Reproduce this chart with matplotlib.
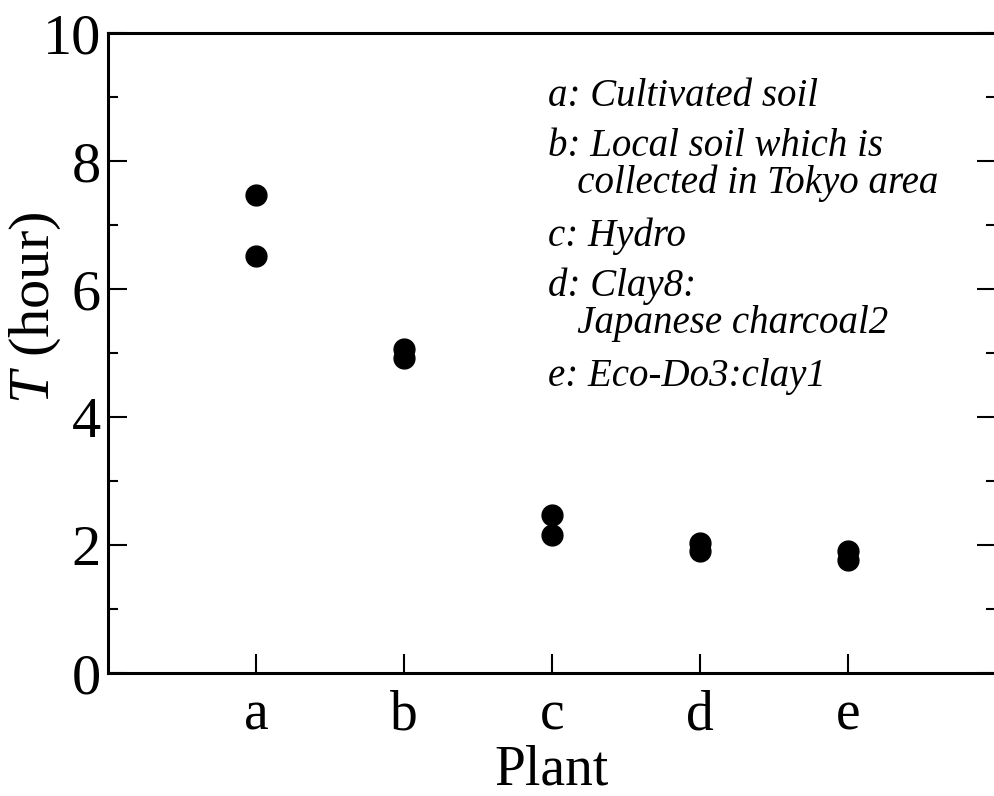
import numpy as np
import matplotlib
matplotlib.use("Agg")
import matplotlib.pyplot as plt

plt.rcParams["font.family"] = ["Liberation Serif", "DejaVu Serif"]
plt.rcParams["mathtext.fontset"] = "custom"
plt.rcParams["mathtext.it"] = "Liberation Serif:italic"
plt.rcParams["mathtext.rm"] = "Liberation Serif"

plants = ["a", "b", "c", "d", "e"]
t_first = [7.47, 5.06, 2.47, 2.03, 1.91]
t_second = [6.52, 4.92, 2.16, 1.90, 1.77]

legend_lines = [
    "a: Cultivated soil",
    "b: Local soil which is\n   collected in Tokyo area",
    "c: Hydro",
    "d: Clay8:\n   Japanese charcoal2",
    "e: Eco-Do3:clay1",
]
legend_tops = [0.930, 0.852, 0.711, 0.633, 0.492]

fig = plt.figure(figsize=(9.94, 7.96), dpi=100)
ax = fig.add_axes([108/994, 123/796, 888/994, 640/796])

x = np.arange(1, len(plants) + 1)
ax.plot(x, t_first, "o", color="black", markersize=15)
ax.plot(x, t_second, "o", color="black", markersize=15)

ax.set_xlim(0, 6)
ax.set_ylim(0, 10)
ax.set_xticks(x)
ax.set_xticklabels(plants)
ax.set_yticks(np.arange(0, 11, 2))
ax.set_yticks(np.arange(1, 10, 2), minor=True)

ax.tick_params(axis="y", which="major", direction="in", length=14, width=1.5,
               labelsize=42, pad=5, right=True)
ax.tick_params(axis="y", which="minor", direction="in", length=7, width=1.5,
               right=True)
ax.tick_params(axis="x", which="major", direction="in", length=14, width=1.5,
               labelsize=40, pad=12)

for s in ax.spines.values():
    s.set_linewidth(2.2)

ax.set_xlabel("Plant", fontsize=40, labelpad=2)
ax.set_ylabel("$T$ (hour)", fontsize=42, va="center")
ax.yaxis.set_label_coords(-73/888, (673-308)/640)

for txt, top in zip(legend_lines, legend_tops):
    ax.text(0.4955, top, txt, transform=ax.transAxes, fontsize=28,
            style="italic", va="top", ha="left", linespacing=1.0)

fig.savefig("out.png", dpi=100)
